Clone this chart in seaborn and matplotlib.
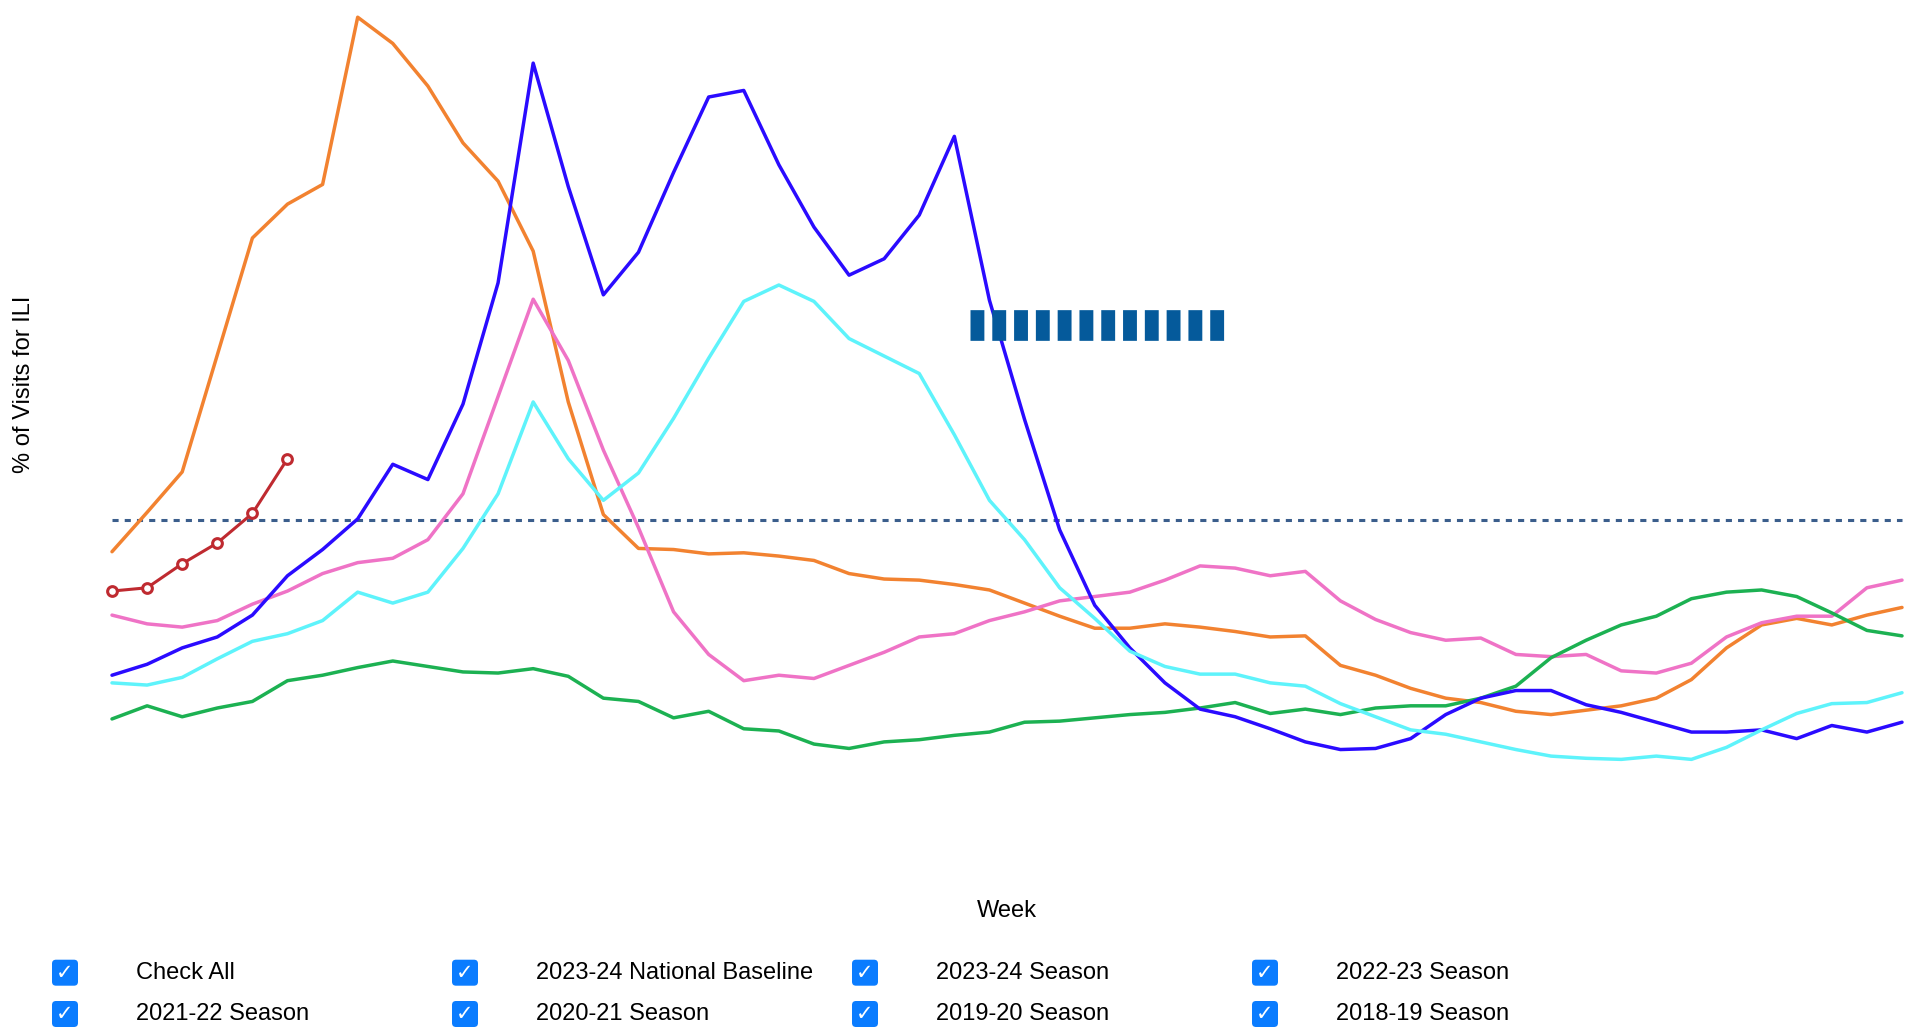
import matplotlib
matplotlib.use("Agg")
import matplotlib.pyplot as plt
from matplotlib.patches import FancyBboxPatch
from matplotlib.lines import Line2D
from matplotlib.transforms import IdentityTransform
import pandas as pd
import seaborn as sns

# MMWR weeks of a season, week 40 through week 39
weeks = [40, 41, 42, 43, 44, 45, 46, 47, 48, 49, 50, 51, 52,
         1, 2, 3, 4, 5, 6, 7, 8, 9, 10, 11, 12, 13, 14, 15, 16, 17, 18, 19, 20,
         21, 22, 23, 24, 25, 26, 27, 28, 29, 30, 31, 32, 33, 34, 35, 36, 37, 38, 39]

national_baseline = 2.9

season_2023_24 = [2.25, 2.28, 2.50, 2.69, 2.96, 3.46]

season_2022_23 = [2.61, 2.97, 3.34, 4.41, 5.48, 5.79, 5.97, 7.50, 7.26, 6.87, 6.35, 6.00, 5.36,
                  3.98, 2.95, 2.64, 2.63, 2.59, 2.60, 2.57, 2.53, 2.41, 2.36, 2.35, 2.31, 2.26,
                  2.14, 2.02, 1.91, 1.91, 1.95, 1.92, 1.88, 1.83, 1.84, 1.57, 1.48, 1.36, 1.27,
                  1.23, 1.15, 1.12, 1.16, 1.20, 1.27, 1.44, 1.73, 1.94, 2.00, 1.94, 2.03, 2.10]

season_2021_22 = [2.03, 1.95, 1.92, 1.98, 2.13, 2.25, 2.41, 2.51, 2.55, 2.72, 3.14, 4.03, 4.92,
                  4.36, 3.54, 2.83, 2.06, 1.67, 1.43, 1.48, 1.45, 1.57, 1.69, 1.83, 1.86, 1.98,
                  2.06, 2.16, 2.20, 2.24, 2.35, 2.48, 2.46, 2.39, 2.43, 2.16, 1.99, 1.87, 1.80,
                  1.82, 1.67, 1.65, 1.67, 1.52, 1.50, 1.59, 1.83, 1.96, 2.02, 2.02, 2.28, 2.35]

season_2020_21 = [1.08, 1.20, 1.10, 1.18, 1.24, 1.43, 1.48, 1.55, 1.61, 1.56, 1.51, 1.50, 1.54,
                  1.47, 1.27, 1.24, 1.09, 1.15, 0.99, 0.97, 0.85, 0.81, 0.87, 0.89, 0.93, 0.96,
                  1.05, 1.06, 1.09, 1.12, 1.14, 1.18, 1.23, 1.13, 1.17, 1.12, 1.18, 1.20, 1.20,
                  1.27, 1.38, 1.64, 1.80, 1.94, 2.02, 2.18, 2.24, 2.26, 2.20, 2.05, 1.89, 1.84]

season_2019_20 = [1.48, 1.58, 1.73, 1.83, 2.03, 2.39, 2.63, 2.91, 3.41, 3.27, 3.96, 5.07, 7.08,
                  5.95, 4.96, 5.35, 6.08, 6.77, 6.83, 6.15, 5.58, 5.14, 5.29, 5.69, 6.41, 4.91,
                  3.82, 2.81, 2.12, 1.73, 1.41, 1.17, 1.10, 0.99, 0.87, 0.80, 0.81, 0.90, 1.12,
                  1.27, 1.34, 1.34, 1.21, 1.14, 1.05, 0.96, 0.96, 0.98, 0.90, 1.02, 0.96, 1.05]

season_2018_19 = [1.41, 1.39, 1.46, 1.63, 1.79, 1.86, 1.98, 2.24, 2.14, 2.24, 2.64, 3.14, 3.98,
                  3.46, 3.08, 3.33, 3.83, 4.38, 4.90, 5.05, 4.90, 4.56, 4.40, 4.24, 3.68, 3.08,
                  2.72, 2.28, 2.00, 1.70, 1.56, 1.49, 1.49, 1.41, 1.38, 1.22, 1.10, 0.98, 0.94,
                  0.87, 0.80, 0.74, 0.72, 0.71, 0.74, 0.71, 0.82, 0.98, 1.13, 1.22, 1.23, 1.32]

legend_labels = ["Check All", "2023-24 National Baseline", "2023-24 Season", "2022-23 Season",
                 "2021-22 Season", "2020-21 Season", "2019-20 Season", "2018-19 Season"]

past = {
    "2022-23 Season": season_2022_23,
    "2021-22 Season": season_2021_22,
    "2020-21 Season": season_2020_21,
    "2019-20 Season": season_2019_20,
    "2018-19 Season": season_2018_19,
}
colors = {
    "2022-23 Season": "#f28230",
    "2021-22 Season": "#ef73c6",
    "2020-21 Season": "#1cb152",
    "2019-20 Season": "#2a0bff",
    "2018-19 Season": "#5ef3fb",
}

frames = []
for name, vals in past.items():
    frames.append(pd.DataFrame({"pos": range(len(vals)), "week": weeks[:len(vals)],
                                "ili": vals, "season": name}))
df = pd.concat(frames, ignore_index=True)

sns.set_theme(style="white")
plt.rcParams["font.family"] = ["Liberation Sans", "DejaVu Sans"]

fig = plt.figure(figsize=(19.13, 10.27), dpi=100)
ax = fig.add_axes([112 / 1913, 157 / 1027, 1790 / 1913, 860 / 1027])

ax.axhline(national_baseline, color="#3b5e8c", lw=2.2, dashes=(2, 2), zorder=1)

sns.lineplot(data=df, x="pos", y="ili", hue="season", hue_order=list(past.keys()),
             palette=colors, linewidth=2.5, legend=False, estimator=None, sort=False, ax=ax)

red = "#bf2a30"
sns.lineplot(x=list(range(len(season_2023_24))), y=season_2023_24, color=red, linewidth=2.2,
             marker="o", markersize=7, markerfacecolor="white", markeredgecolor=red,
             markeredgewidth=2.2, ax=ax, zorder=5)

for ln in ax.lines:
    ln.set_clip_on(False)

ax.set_xlim(0, len(weeks) - 1)
ax.set_ylim(-0.302, 7.566)
ax.set_axis_off()

# stray baseline legend swatch drawn over the plot
fig.add_artist(Line2D([970 / 1913, 1227 / 1913], [1 - 324.7 / 1027] * 2,
                      transform=fig.transFigure, color="#055a9b", lw=22.1,
                      dashes=(0.452, 0.258), dash_capstyle="butt"))

fig.text(24 / 1913, 1 - 384 / 1027, "% of Visits for ILI", rotation=90,
         ha="center", va="center", fontsize=17, color="black")
fig.text(1007 / 1913, 1 - 911 / 1027, "Week", ha="center", va="center",
         fontsize=17, color="black")

# checkbox legend
col_x = [65, 465, 865, 1265]
row_y = [972.7, 1014]
for k, label in enumerate(legend_labels):
    cx = col_x[k % 4]
    cy = 1027 - row_y[k // 4]
    box = FancyBboxPatch((cx - 13, cy - 13), 26, 26, boxstyle="round,pad=0,rounding_size=4",
                         fc="#0a7cff", ec="none", transform=IdentityTransform())
    fig.add_artist(box)
    fig.text(cx / 1913, cy / 1027, "\u2713", ha="center", va="center", fontsize=15,
             color="white", fontweight="bold", family="DejaVu Sans")
    fig.text((cx + 70.5) / 1913, cy / 1027, label, ha="left", va="center",
             fontsize=17, color="black")

fig.savefig("out.png", dpi=100)
